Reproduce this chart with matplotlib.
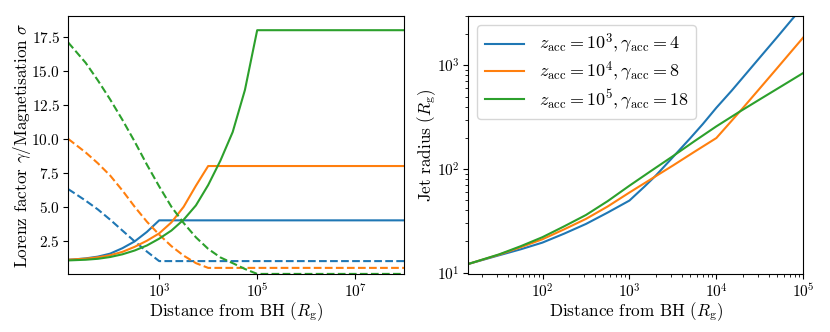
import matplotlib
matplotlib.use("Agg")
import matplotlib.pyplot as plt
import numpy as np

plt.rcParams["font.family"] = "serif"
plt.rcParams["font.serif"] = ["cmr10", "DejaVu Serif"]
plt.rcParams["mathtext.fontset"] = "cm"
plt.rcParams["axes.unicode_minus"] = False
plt.rcParams["axes.formatter.use_mathtext"] = True

# ---- left panel: Lorentz factor (solid) and magnetisation (dashed) ----
# x given as log10 of distance from BH (R_g)
logz_blue = [1.143, 1.25, 1.5, 1.75, 2.0, 2.25, 2.5, 2.75, 3.0, 8.0]
gamma_blue = [1.10, 1.12, 1.20, 1.33, 1.55, 1.95, 2.45, 3.15, 4.0, 4.0]
sigma_blue = [6.3, 6.05, 5.45, 4.8, 4.05, 3.25, 2.45, 1.7, 1.0, 1.0]

logz_orange = [1.143, 1.5, 1.75, 2.0, 2.25, 2.5, 2.75, 3.0, 3.25, 3.5, 3.75, 4.0, 8.0]
gamma_orange = [1.10, 1.18, 1.28, 1.43, 1.68, 2.05, 2.5, 3.04, 3.85, 5.0, 6.55, 8.0, 8.0]
sigma_orange = [10.0, 9.0, 8.2, 7.3, 6.2, 5.0, 3.9, 2.95, 2.1, 1.4, 0.85, 0.5, 0.5]

logz_green = [1.143, 1.5, 1.75, 2.0, 2.25, 2.5, 2.75, 3.0, 3.25, 3.5, 3.75,
              4.0, 4.25, 4.5, 4.75, 5.0, 8.0]
gamma_green = [1.05, 1.10, 1.17, 1.30, 1.50, 1.78, 2.15, 2.65, 3.25, 4.05, 5.1,
               6.6, 8.4, 10.5, 13.6, 18.0, 18.0]
sigma_green = [17.1, 15.6, 14.3, 12.9, 11.4, 9.8, 8.1, 6.5, 5.0, 3.8, 2.75,
               1.9, 1.27, 0.85, 0.42, 0.056, 0.056]

# ---- right panel: jet radius (R_g) ----
logzr_blue = [1.143, 1.5, 1.75, 2.0, 2.25, 2.5, 2.75, 3.0, 3.176, 3.301, 3.477,
              3.699, 3.845, 4.0, 4.176, 4.301, 4.477, 4.699, 4.845, 5.0]
r_blue = [12.1, 14.7, 16.8, 19.5, 23.8, 29.5, 38, 49.6, 68, 86, 124,
          198, 272, 390, 570, 757, 1130, 1870, 2620, 3740]

logzr_orange = [1.143, 1.5, 1.75, 2.0, 2.25, 2.5, 2.75, 3.0, 3.25, 3.5, 3.75,
                4.0, 4.176, 4.301, 4.477, 4.699, 4.845, 5.0]
r_orange = [12.1, 14.9, 17.6, 21, 26.2, 33, 43.5, 59.3, 80, 108, 147,
            199, 292, 384, 570, 940, 1310, 1860]

logzr_green = [1.143, 1.5, 1.75, 2.0, 2.25, 2.5, 2.75, 3.0, 3.25, 3.5, 3.75,
               4.0, 4.25, 4.5, 4.75, 5.0]
r_green = [12.1, 15, 18, 22, 28, 36, 49, 69, 96, 133, 186,
           258, 350, 470, 630, 845]

labels = [r"$z_{\rm acc} = 10^3, \gamma_{\rm acc} = 4$",
          r"$z_{\rm acc} = 10^4, \gamma_{\rm acc} = 8$",
          r"$z_{\rm acc} = 10^5, \gamma_{\rm acc} = 18$"]

fig = plt.figure(figsize=(8.3, 3.32), dpi=100)
ax1 = fig.add_axes([0.0823, 0.1747, 0.4047, 0.7773])
ax2 = fig.add_axes([0.5642, 0.1747, 0.4036, 0.7773])

left_sets = [(logz_blue, gamma_blue, sigma_blue, "C0"),
             (logz_orange, gamma_orange, sigma_orange, "C1"),
             (logz_green, gamma_green, sigma_green, "C2")]
for logz, gam, sig, col in left_sets:
    z = np.power(10.0, logz)
    ax1.plot(z, gam, color=col, lw=1.5)
    ax1.plot(z, sig, color=col, lw=1.5, ls="--")
ax1.set_xscale("log")
ax1.set_xlim(14, 1e8)
ax1.set_ylim(0.05, 19.05)
ax1.set_yticks([2.5, 5.0, 7.5, 10.0, 12.5, 15.0, 17.5])
ax1.set_xticks([1e3, 1e5, 1e7])
ax1.xaxis.set_minor_locator(matplotlib.ticker.NullLocator())
ax1.set_xlabel(r"Distance from BH ($R_{\rm g}$)", fontsize=12.3, labelpad=0)
ax1.set_ylabel(r"Lorenz factor $\gamma$/Magnetisation $\sigma$", fontsize=12.3, labelpad=-1)

right_sets = [(logzr_blue, r_blue, "C0"),
              (logzr_orange, r_orange, "C1"),
              (logzr_green, r_green, "C2")]
for (logz, r, col), lab in zip(right_sets, labels):
    ax2.plot(np.power(10.0, logz), r, color=col, lw=1.5, label=lab)
ax2.set_xscale("log")
ax2.set_yscale("log")
ax2.set_xlim(14, 1e5)
ax2.set_ylim(9.7, 3000)
ax2.set_xlabel(r"Distance from BH ($R_{\rm g}$)", fontsize=12.3, labelpad=0)
ax2.set_ylabel(r"Jet radius ($R_{\rm g}$)", fontsize=12.3, labelpad=-1)
ax2.legend(loc="upper left", fontsize=13, labelspacing=0.2, handlelength=2.2)

for ax in (ax1, ax2):
    ax.tick_params(labelsize=11, pad=2.5)

fig.savefig("out.png", dpi=100)
